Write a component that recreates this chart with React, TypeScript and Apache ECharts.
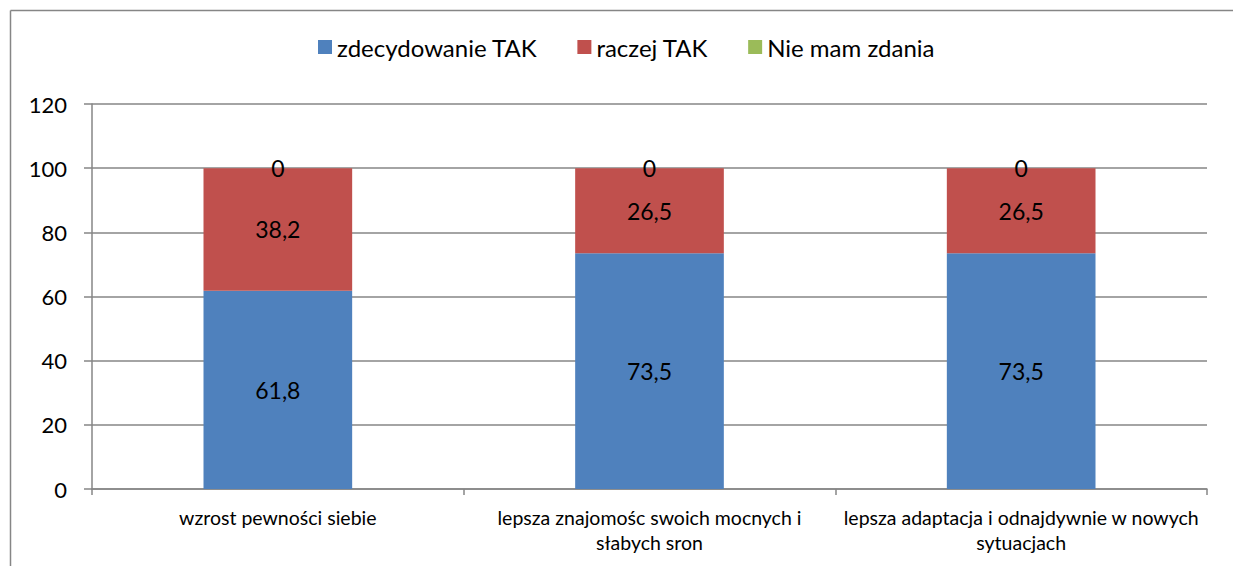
import React, { useEffect, useRef } from "react";
import * as echarts from "echarts";

const categories = [
  "wzrost pewności siebie",
  "lepsza znajomośc swoich mocnych i\nsłabych sron",
  "lepsza adaptacja i odnajdywnie w nowych\nsytuacjach",
];
const seriesNames = ["zdecydowanie TAK", "raczej TAK", "Nie mam zdania"];
const zdecydowanieTak = [61.8, 73.5, 73.5];
const raczejTak = [38.2, 26.5, 26.5];
const nieMamZdania = [0, 0, 0];
const yTicks = { min: 0, max: 120, interval: 20 };

const colors = ["#4F81BD", "#C0504D", "#9BBB59"];
const FONT = "Lato, 'Open Sans', sans-serif";

export default function App() {
  const ref = useRef<HTMLDivElement>(null);
  useEffect(() => {
    document.body.style.margin = "0";
    document.body.style.overflow = "hidden";
    const chart = echarts.init(ref.current!, null, { renderer: "svg" });
    const fmt = (p: any) => String(p.value).replace(".", ",");
    const label = {
      show: true,
      position: "inside",
      color: "#000",
      fontSize: 23,
      fontFamily: FONT,
      formatter: fmt,
    };
    const data = [zdecydowanieTak, raczejTak, nieMamZdania];
    chart.setOption({
      animation: false,
      textStyle: { fontFamily: FONT },
      graphic: [
        {
          type: "line",
          shape: { x1: 10.5, y1: 10.5, x2: 1233, y2: 10.5 },
          style: { stroke: "#868686", lineWidth: 1.5 },
          silent: true,
        },
        {
          type: "line",
          shape: { x1: 10.5, y1: 10.5, x2: 10.5, y2: 566 },
          style: { stroke: "#868686", lineWidth: 1.5 },
          silent: true,
        },
      ],
      legend: {
        top: 30,
        left: 313,
        itemWidth: 14,
        itemHeight: 14,
        itemGap: 40,
        icon: "rect",
        textStyle: { fontSize: 24, color: "#000", fontFamily: FONT },
        data: seriesNames,
      },
      grid: { left: 92, right: 26, top: 104, bottom: 77, containLabel: false },
      xAxis: {
        type: "category",
        data: categories,
        axisLine: { show: true, lineStyle: { color: "#868686", width: 1.5 } },
        axisTick: { show: true, length: 6, lineStyle: { color: "#868686", width: 1.5 } },
        axisLabel: {
          color: "#000",
          fontSize: 19.5,
          fontFamily: FONT,
          margin: 16,
          lineHeight: 25,
          interval: 0,
        },
      },
      yAxis: {
        type: "value",
        min: yTicks.min,
        max: yTicks.max,
        interval: yTicks.interval,
        axisLine: { show: true, lineStyle: { color: "#868686", width: 1.5 } },
        axisTick: { show: true, length: 8, lineStyle: { color: "#868686", width: 1.5 } },
        splitLine: { show: true, lineStyle: { color: "#868686", width: 1.5 } },
        axisLabel: { color: "#000", fontSize: 22, fontFamily: FONT, margin: 25 },
      },
      series: seriesNames.map((name, i) => ({
        name,
        type: "bar",
        stack: "total",
        barWidth: "40%",
        itemStyle: { color: colors[i] },
        label,
        data: data[i],
      })),
    });
    return () => chart.dispose();
  }, []);
  return <div ref={ref} style={{ width: 1233, height: 566 }} />;
}
